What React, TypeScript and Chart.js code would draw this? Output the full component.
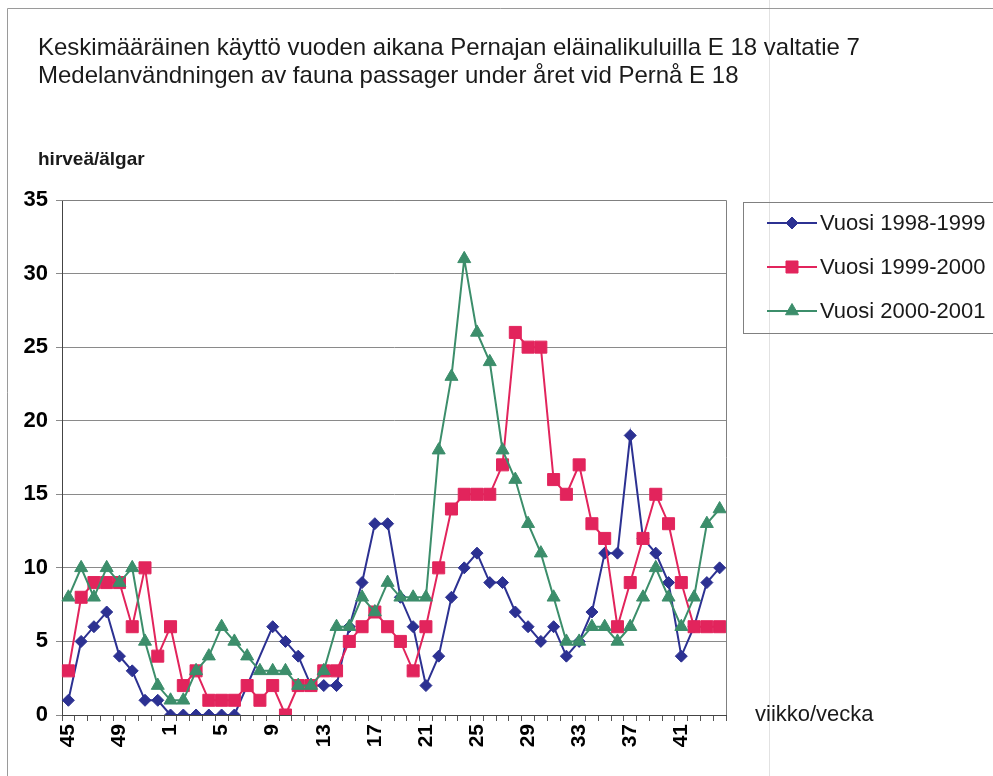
import React, { useEffect, useRef } from 'react';
import { Chart, registerables } from 'chart.js';

Chart.register(...registerables);

const FONT = "'Liberation Sans', Arial, Helvetica, sans-serif";

// Weeks (viikko/vecka), week 45 of the first year to week 44 of the next
const weeks = [
  '45', '46', '47', '48', '49', '50', '51', '52',
  '1', '2', '3', '4', '5', '6', '7', '8', '9', '10', '11', '12', '13', '14', '15', '16',
  '17', '18', '19', '20', '21', '22', '23', '24', '25', '26', '27', '28', '29', '30',
  '31', '32', '33', '34', '35', '36', '37', '38', '39', '40', '41', '42', '43', '44',
];
const shownWeekLabels = ['45', '49', '1', '5', '9', '13', '17', '21', '25', '29', '33', '37', '41'];

const series1998_1999 = [
  1, 5, 6, 7, 4, 3, 1, 1,
  0, 0, 0, 0, 0, 0, null, null, 6, 5, 4, 2, 2, 2, 6, 9,
  13, 13, 8, 6, 2, 4, 8, 10, 11, 9, 9, 7, 6, 5,
  6, 4, 5, 7, 11, 11, 19, 12, 11, 9, 4, 6, 9, 10,
];
const series1999_2000 = [
  3, 8, 9, 9, 9, 6, 10, 4,
  6, 2, 3, 1, 1, 1, 2, 1, 2, 0, 2, 2, 3, 3, 5, 6,
  7, 6, 5, 3, 6, 10, 14, 15, 15, 15, 17, 26, 25, 25,
  16, 15, 17, 13, 12, 6, 9, 12, 15, 13, 9, 6, 6, 6,
];
const series2000_2001 = [
  8, 10, 8, 10, 9, 10, 5, 2,
  1, 1, 3, 4, 6, 5, 4, 3, 3, 3, 2, 2, 3, 6, 6, 8,
  7, 9, 8, 8, 8, 18, 23, 31, 26, 24, 18, 16, 13, 11,
  8, 5, 5, 6, 6, 5, 6, 8, 10, 8, 6, 8, 13, 14,
];

const seriesNames = ['Vuosi 1998-1999', 'Vuosi 1999-2000', 'Vuosi 2000-2001'];
const seriesColors = ['#2c3192', '#e2245c', '#3c8e6b'];
const seriesMarkers = ['rectRot', 'rect', 'triangle'];
const seriesMarkerSizes = [6, 8.5, 7.5];

const titleLines = [
  'Keskimääräinen käyttö vuoden aikana Pernajan eläinalikuluilla E 18 valtatie 7',
  'Medelanvändningen av fauna passager under året vid Pernå E 18',
];
const yAxisTitle = 'hirveä/älgar';
const xAxisTitle = 'viikko/vecka';
const yMin = 0;
const yMax = 35;
const yStep = 5;

function drawMarker(ctx: CanvasRenderingContext2D, style: string, x: number, y: number, r: number, color: string) {
  ctx.save();
  ctx.fillStyle = color;
  ctx.strokeStyle = color;
  ctx.lineWidth = 1;
  ctx.beginPath();
  if (style === 'rectRot') {
    ctx.moveTo(x, y - r);
    ctx.lineTo(x + r, y);
    ctx.lineTo(x, y + r);
    ctx.lineTo(x - r, y);
    ctx.closePath();
  } else if (style === 'rect') {
    const s = Math.SQRT1_2 * r;
    ctx.rect(x - s, y - s, 2 * s, 2 * s);
  } else {
    ctx.moveTo(x, y - r);
    ctx.lineTo(x + Math.sin(2 * Math.PI / 3) * r, y - Math.cos(2 * Math.PI / 3) * r);
    ctx.lineTo(x + Math.sin(4 * Math.PI / 3) * r, y - Math.cos(4 * Math.PI / 3) * r);
    ctx.closePath();
  }
  ctx.fill();
  ctx.stroke();
  ctx.restore();
}

const decorPlugin = {
  id: 'decor',
  beforeDraw(chart: any) {
    const ctx: CanvasRenderingContext2D = chart.ctx;
    ctx.save();
    ctx.fillStyle = '#ffffff';
    ctx.fillRect(0, 0, chart.width, chart.height);
    ctx.lineWidth = 1;
    ctx.strokeStyle = '#e2e2e2';
    ctx.beginPath();
    ctx.moveTo(769.5, 0);
    ctx.lineTo(769.5, chart.height);
    ctx.stroke();
    ctx.strokeStyle = '#9a9a9a';
    ctx.beginPath();
    ctx.moveTo(7.5, chart.height);
    ctx.lineTo(7.5, 8.5);
    ctx.lineTo(chart.width, 8.5);
    ctx.stroke();
    ctx.restore();
  },
  afterDraw(chart: any) {
    const ctx: CanvasRenderingContext2D = chart.ctx;
    const a = chart.chartArea;
    ctx.save();
    ctx.lineWidth = 1;
    ctx.strokeStyle = '#808080';
    ctx.beginPath();
    ctx.moveTo(a.left, Math.round(a.top) + 0.5);
    ctx.lineTo(Math.round(a.right) + 0.5, Math.round(a.top) + 0.5);
    ctx.lineTo(Math.round(a.right) + 0.5, a.bottom);
    ctx.stroke();

    ctx.fillStyle = '#1a1a1a';
    ctx.textAlign = 'left';
    ctx.textBaseline = 'middle';
    ctx.font = `24px ${FONT}`;
    ctx.fillText(titleLines[0], 38, 48);
    ctx.fillText(titleLines[1], 38, 76);
    ctx.font = `bold 19px ${FONT}`;
    ctx.fillText(yAxisTitle, 38, 160);
    ctx.font = `22px ${FONT}`;
    ctx.fillText(xAxisTitle, 755, 715);

    // legend
    ctx.strokeStyle = '#808080';
    ctx.lineWidth = 1;
    ctx.strokeRect(743.5, 202.5, 320, 131);
    const rows = [223, 267, 311];
    ctx.font = `22px ${FONT}`;
    seriesNames.forEach((name, i) => {
      const y = rows[i];
      ctx.strokeStyle = seriesColors[i];
      ctx.lineWidth = 2;
      ctx.beginPath();
      ctx.moveTo(767, y);
      ctx.lineTo(817, y);
      ctx.stroke();
      drawMarker(ctx, seriesMarkers[i], 792, y, seriesMarkerSizes[i], seriesColors[i]);
      ctx.fillStyle = '#1a1a1a';
      ctx.fillText(name, 820, y + 1);
    });
    ctx.restore();
  },
};

export default function App() {
  const canvasRef = useRef<HTMLCanvasElement | null>(null);

  useEffect(() => {
    if (!canvasRef.current) return;
    const datasets = [series1998_1999, series1999_2000, series2000_2001].map((data, i) => ({
      label: seriesNames[i],
      data,
      borderColor: seriesColors[i],
      backgroundColor: seriesColors[i],
      borderWidth: 2,
      pointStyle: seriesMarkers[i],
      pointRadius: seriesMarkerSizes[i],
      pointBorderWidth: 1,
      pointBackgroundColor: seriesColors[i],
      pointBorderColor: seriesColors[i],
      tension: 0,
      spanGaps: true,
      order: 2 - i,
    }));
    const chart = new Chart(canvasRef.current, {
      type: 'line',
      data: { labels: weeks, datasets },
      options: {
        animation: false,
        responsive: false,
        devicePixelRatio: 1,
        layout: { padding: { left: 0, top: 200, right: 267, bottom: 0 } },
        plugins: { legend: { display: false }, tooltip: { enabled: false }, title: { display: false } },
        scales: {
          x: {
            type: 'category',
            offset: true,
            ticks: {
              autoSkip: false,
              maxRotation: 90,
              minRotation: 90,
              padding: 3,
              color: '#000',
              font: { family: FONT, size: 21, weight: 'bold' },
              callback: (_v: any, i: number) => (shownWeekLabels.includes(weeks[i]) && i % 4 === 0 ? weeks[i] : ''),
            },
            grid: { offset: true, drawOnChartArea: false, drawTicks: true, tickLength: 6, color: '#555' },
            border: { display: true, color: '#444', width: 1 },
            afterFit: (s: any) => { s.height = 61; },
          },
          y: {
            min: yMin,
            max: yMax,
            ticks: {
              stepSize: yStep,
              padding: 8,
              color: '#000',
              font: { family: FONT, size: 22, weight: 'bold' },
            },
            grid: { color: '#8a8a8a', lineWidth: 1, drawTicks: true, tickLength: 6 },
            border: { display: true, color: '#444', width: 1 },
            afterFit: (s: any) => { s.width = 62; },
          },
        },
      },
      plugins: [decorPlugin],
    } as any);
    return () => chart.destroy();
  }, []);

  return (
    <div style={{ position: 'absolute', left: 0, top: 0, width: 993, height: 776 }}>
      <canvas ref={canvasRef} width={993} height={776} style={{ display: 'block', width: 993, height: 776 }} />
    </div>
  );
}
